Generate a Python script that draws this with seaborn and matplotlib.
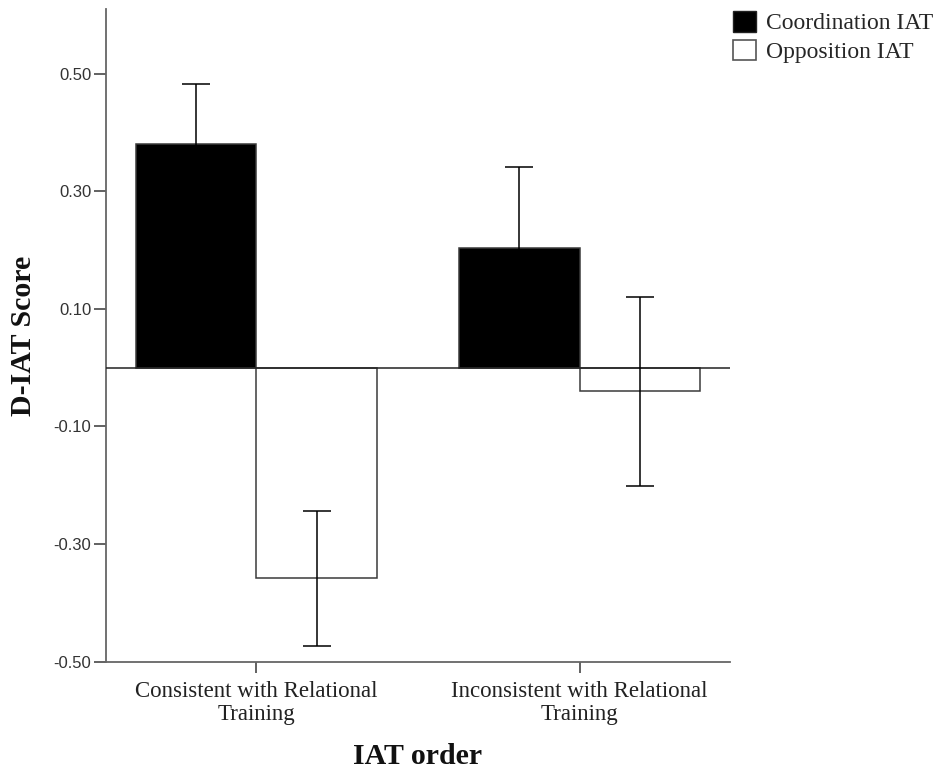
import matplotlib
matplotlib.use("Agg")
import matplotlib.pyplot as plt
from matplotlib.patches import Patch
import numpy as np
import pandas as pd
import seaborn as sns

# Mean D-IAT scores and error-bar half-widths per IAT order and IAT type
orders = ["Consistent with Relational\nTraining", "Inconsistent with Relational\nTraining"]
iat_types = ["Coordination IAT", "Opposition IAT"]
coordination_mean = [0.38, 0.204]
opposition_mean = [-0.358, -0.040]
coordination_err = [0.102, 0.138]
opposition_err = [0.115, 0.161]
y_ticks = [-0.50, -0.30, -0.10, 0.10, 0.30, 0.50]

df = pd.DataFrame({
    "order": orders * 2,
    "iat": [iat_types[0]] * 2 + [iat_types[1]] * 2,
    "score": coordination_mean + opposition_mean,
    "err": coordination_err + opposition_err,
})

sns.set_theme(style="white")
plt.rcParams["font.family"] = ["Liberation Serif", "DejaVu Serif"]

W, H = 941, 771
fig = plt.figure(figsize=(W / 100, H / 100), dpi=100)
ax = fig.add_axes([0.1126, 0.1418, 0.6632, 0.8465])

edge = "#3a3a3a"
sns.barplot(data=df, x="order", y="score", hue="iat", hue_order=iat_types,
            order=orders, palette=["black", "white"], edgecolor=edge,
            linewidth=1.1, width=0.745, errorbar=None, legend=False, ax=ax)

ax.axhline(0, color="#222222", lw=1.1, zorder=3)

# Error bars placed at the centre of each drawn bar
for patch_group, iat in zip(ax.containers, iat_types):
    sub = df[df["iat"] == iat].set_index("order").loc[orders]
    xs = [p.get_x() + p.get_width() / 2 for p in patch_group]
    ax.errorbar(xs, sub["score"].values, yerr=sub["err"].values, fmt="none",
                ecolor="black", elinewidth=1.1, capsize=10.4, capthick=1.1,
                zorder=4)

ax.set_ylim(-0.50, 0.61)
ax.set_xlim(-0.465, 1.465)
ax.set_yticks(y_ticks)
ax.set_yticklabels([f"{v:.2f}" for v in y_ticks], fontfamily="Liberation Sans",
                   fontsize=12, color="#333333")
ax.tick_params(axis="y", direction="out", length=9, width=1.3, color="#555555",
               pad=1.5, left=True)
ax.tick_params(axis="x", direction="out", length=8, width=1.3, color="#555555",
               pad=6, bottom=True, labelsize=16.5, labelcolor="#222222")
for lbl in ax.get_xticklabels():
    lbl.set_linespacing(1.12)

for side in ["top", "right"]:
    ax.spines[side].set_visible(False)
for side in ["left", "bottom"]:
    ax.spines[side].set_color("#666666")
    ax.spines[side].set_linewidth(1.3)

# Axis titles placed in figure coordinates
ax.set_xlabel("IAT order", fontsize=21.5, fontweight="bold", color="#111111")
ax.xaxis.set_label_coords(418 / W, 1 - 757 / H, transform=fig.transFigure)
ax.xaxis.label.set_verticalalignment("center")
ax.set_ylabel("D-IAT Score", fontsize=21.5, fontweight="bold", color="#111111")
ax.yaxis.set_label_coords(24 / W, 1 - 336 / H, transform=fig.transFigure)
ax.yaxis.label.set_verticalalignment("center")

handles = [Patch(facecolor="black", edgecolor="#222222", lw=1.0),
           Patch(facecolor="white", edgecolor="#555555", lw=1.2)]
fig.legend(handles, iat_types, loc="upper left",
           bbox_to_anchor=(733 / W, 1 - 11 / H), frameon=False, fontsize=17,
           handlelength=0.97, handleheight=0.97, handletextpad=0.42,
           labelspacing=0.22, borderaxespad=0.0, borderpad=0.0)

fig.savefig("out.png", dpi=100, facecolor="white")
